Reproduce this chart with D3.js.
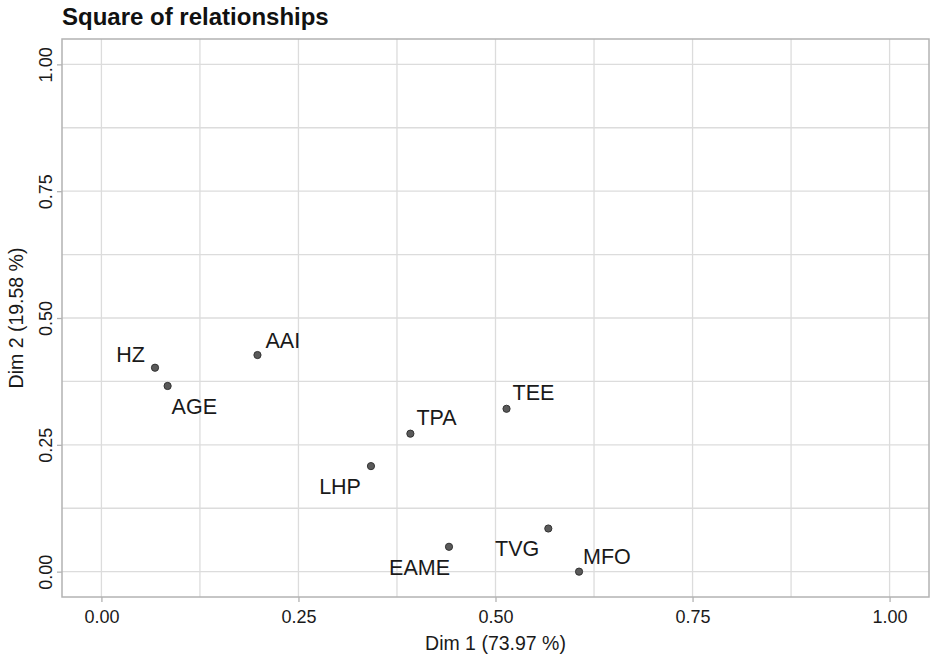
<!DOCTYPE html>
<html lang="en">
<head>
    <meta charset="utf-8" />
    <title>Square of relationships</title>
    <script src="https://d3js.org/d3.v7.min.js"></script>
    <style>
        body {
            margin: 0;
            padding: 0;
            background: white;
            font-family: "Liberation Sans", Arial, sans-serif;
        }
    </style>
</head>
<body>
<svg id="chart"></svg>
<script>
    var w = 935;
    var h = 665;

    // Variable names and their coordinates on the two dimensions
    var variables = ["HZ", "AGE", "AAI", "TPA", "LHP", "TEE", "EAME", "TVG", "MFO"];
    var dim1 = [0.068, 0.084, 0.198, 0.392, 0.342, 0.514, 0.441, 0.567, 0.606];
    var dim2 = [0.402, 0.366, 0.427, 0.272, 0.208, 0.321, 0.049, 0.085, 0.000];
    var tickValues = [0, 0.25, 0.5, 0.75, 1];
    var minorTicks = [0.125, 0.375, 0.625, 0.875];

    // Where each label sits relative to its point (repel style)
    var labelPlace = {
        HZ:   {dx: -10, dy: -6,  anchor: "end"},
        AGE:  {dx: 4,   dy: 28,  anchor: "start"},
        AAI:  {dx: 8,   dy: -7,  anchor: "start"},
        TPA:  {dx: 6,   dy: -9,  anchor: "start"},
        LHP:  {dx: -10, dy: 28,  anchor: "end"},
        TEE:  {dx: 6,   dy: -9,  anchor: "start"},
        EAME: {dx: 1,   dy: 28,  anchor: "end"},
        TVG:  {dx: -9,  dy: 27,  anchor: "end"},
        MFO:  {dx: 4,   dy: -8,  anchor: "start"}
    };

    var margin = {top: 39, right: 6, bottom: 68, left: 62};

    var svg = d3.select("#chart")
                .attr("width", w)
                .attr("height", h);

    var xScale = d3.scaleLinear()
                .domain([-0.05, 1.05])
                .range([margin.left, w - margin.right]);

    var yScale = d3.scaleLinear()
                .domain([-0.05, 1.05])
                .range([h - margin.bottom, margin.top]);

    // Grid lines (minor then major)
    svg.selectAll(".vgrid")
        .data(minorTicks.concat(tickValues))
        .enter().append("line")
        .attr("x1", function(d) { return xScale(d); })
        .attr("x2", function(d) { return xScale(d); })
        .attr("y1", margin.top)
        .attr("y2", h - margin.bottom)
        .attr("stroke", "#dcdcdc")
        .attr("stroke-width", 1.3);

    svg.selectAll(".hgrid")
        .data(minorTicks.concat(tickValues))
        .enter().append("line")
        .attr("x1", margin.left)
        .attr("x2", w - margin.right)
        .attr("y1", function(d) { return yScale(d); })
        .attr("y2", function(d) { return yScale(d); })
        .attr("stroke", "#dcdcdc")
        .attr("stroke-width", 1.3);

    // Panel border
    svg.append("rect")
        .attr("x", margin.left)
        .attr("y", margin.top)
        .attr("width", w - margin.right - margin.left)
        .attr("height", h - margin.bottom - margin.top)
        .attr("fill", "none")
        .attr("stroke", "#b3b3b3")
        .attr("stroke-width", 1.5);

    // Axes
    var xAxis = d3.axisBottom(xScale)
                .tickValues(tickValues)
                .tickFormat(d3.format(".2f"))
                .tickSize(5)
                .tickPadding(8);

    var yAxis = d3.axisLeft(yScale)
                .tickValues(tickValues)
                .tickFormat(d3.format(".2f"))
                .tickSize(5)
                .tickPadding(4);

    var gx = svg.append("g")
        .attr("transform", "translate(0," + (h - margin.bottom) + ")")
        .call(xAxis);

    var gy = svg.append("g")
        .attr("transform", "translate(" + margin.left + ",0)")
        .call(yAxis);

    [gx, gy].forEach(function(g) {
        g.select(".domain").remove();
        g.selectAll(".tick line").attr("stroke", "#b3b3b3").attr("stroke-width", 1.3);
        g.selectAll(".tick text")
            .attr("fill", "#1a1a1a")
            .attr("font-size", "18px")
            .attr("font-family", "'Liberation Sans', Arial, sans-serif");
    });

    // Rotate y tick labels
    gy.selectAll(".tick text")
        .attr("transform", "rotate(-90)")
        .attr("x", 0)
        .attr("y", -10)
        .attr("dy", 0)
        .attr("text-anchor", "middle");

    // Axis titles
    svg.append("text")
        .attr("x", (margin.left + w - margin.right) / 2)
        .attr("y", 650)
        .attr("text-anchor", "middle")
        .attr("font-size", "19.5px")
        .attr("fill", "#1a1a1a")
        .text("Dim 1 (73.97 %)");

    svg.append("text")
        .attr("transform", "translate(23," + ((margin.top + h - margin.bottom) / 2) + ") rotate(-90)")
        .attr("text-anchor", "middle")
        .attr("font-size", "19.5px")
        .attr("fill", "#1a1a1a")
        .text("Dim 2 (19.58 %)");

    // Title
    svg.append("text")
        .attr("x", margin.left)
        .attr("y", 25)
        .attr("font-size", "24px")
        .attr("font-weight", "bold")
        .attr("fill", "#111")
        .text("Square of relationships");

    // Points
    svg.selectAll("circle")
        .data(variables)
        .enter().append("circle")
        .attr("cx", function(d, i) { return xScale(dim1[i]); })
        .attr("cy", function(d, i) { return yScale(dim2[i]); })
        .attr("r", 3.6)
        .attr("fill", "#5a5a5a")
        .attr("stroke", "#333")
        .attr("stroke-width", 1);

    // Labels
    svg.selectAll(".label")
        .data(variables)
        .enter().append("text")
        .attr("class", "label")
        .attr("x", function(d, i) { return xScale(dim1[i]) + labelPlace[d].dx; })
        .attr("y", function(d, i) { return yScale(dim2[i]) + labelPlace[d].dy; })
        .attr("text-anchor", function(d) { return labelPlace[d].anchor; })
        .attr("font-size", "21.5px")
        .attr("fill", "#1a1a1a")
        .text(function(d) { return d; });
</script>
</body>
</html>
